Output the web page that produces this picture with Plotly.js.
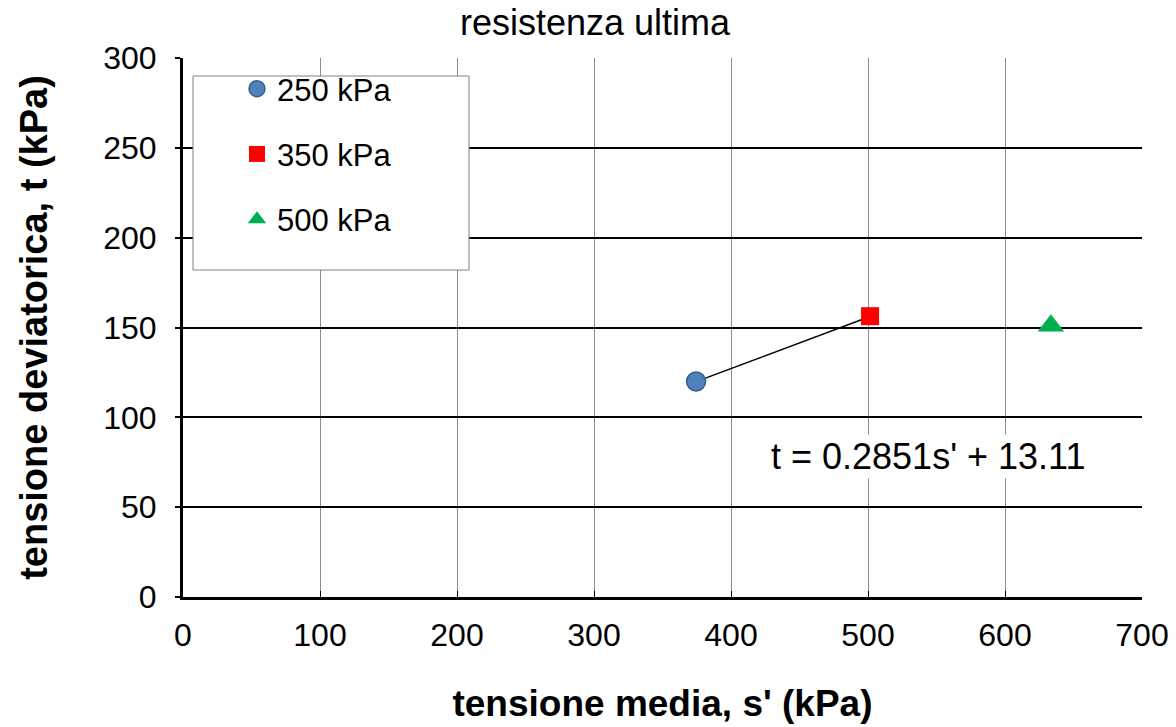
<!DOCTYPE html>
<html>
<head>
<meta charset="utf-8">
<script src="https://cdn.plot.ly/plotly-3.0.1.min.js"></script>
<style>html,body{margin:0;padding:0;background:#fff;}#chart{width:1176px;height:727px;}</style>
</head>
<body>
<div id="chart"></div>
<script>
// Data
const seriesNames = ["250 kPa", "350 kPa", "500 kPa"];
const sValues = [374.5, 501.5, 633.5];   // tensione media s' (kPa)
const tValues = [120.0, 156.3, 151.0];   // tensione deviatorica t (kPa)
const trendX = [374.5, 501.5];
const trendY = [119.9, 156.1];
const trendLabel = "t = 0.2851s' + 13.11";
const xTicks = [0, 100, 200, 300, 400, 500, 600, 700];
const yTicks = [0, 50, 100, 150, 200, 250, 300];

const markerStyles = [
  {symbol: "circle", size: 19, color: "#4F81BD", line: {color: "#385D8A", width: 1.5}},
  {symbol: "square", size: 18, color: "#FF0000", line: {color: "#FF0000", width: 0}},
  {symbol: "triangle-up", size: 23, color: "#00B050", line: {color: "#00B050", width: 0}}
];

const traces = [{
  x: trendX, y: trendY, mode: "lines", type: "scatter",
  line: {color: "#000000", width: 1.5}, showlegend: false, hoverinfo: "skip"
}];
seriesNames.forEach((n, i) => {
  traces.push({
    x: [sValues[i]], y: [tValues[i]], mode: "markers", type: "scatter",
    name: n, legendgroup: "g" + i, marker: markerStyles[i]
  });
});

const W = 1176, H = 727, L = 183, R = 34, T = 58, B = 130;
const pw = W - L - R, ph = H - T - B;
const px = v => (v - L) / pw;
const py = v => (H - B - v) / ph;

const layout = {
  width: W, height: H,
  margin: {l: L, r: R, t: T, b: B, pad: 0},
  paper_bgcolor: "#ffffff", plot_bgcolor: "#ffffff",
  font: {family: "Liberation Sans, Arial, sans-serif", color: "#000000", size: 31},
  title: {text: "resistenza ultima", font: {size: 36}, x: 0.506, xanchor: "center", y: 0.969, yanchor: "middle", yref: "container"},
  xaxis: {
    range: [0, 700], tickvals: xTicks, ticktext: xTicks.map(String),
    showgrid: true, gridcolor: "#8c8c8c", gridwidth: 1,
    showline: true, linecolor: "#000000", linewidth: 3,
    ticks: "inside", ticklen: 6, tickcolor: "#000000", tickwidth: 1,
    zeroline: false, tickfont: {size: 32}, ticklabelstandoff: 8,
    title: {text: "<b>tensione media, s' (kPa)</b>", font: {size: 37}, standoff: 38}
  },
  yaxis: {
    range: [0, 300], tickvals: yTicks, ticktext: yTicks.map(String),
    showgrid: true, gridcolor: "#000000", gridwidth: 2,
    showline: true, linecolor: "#000000", linewidth: 3,
    ticks: "outside", ticklen: 5, tickcolor: "#000000", tickwidth: 2,
    zeroline: false, tickfont: {size: 32}, ticklabelstandoff: 12,
    title: {text: "<b>tensione deviatorica, t (kPa)</b>", font: {size: 38}, standoff: 44}
  },
  showlegend: true,
  legend: {
    x: px(237), y: py(62), xanchor: "left", yanchor: "top",
    bgcolor: "rgba(0,0,0,0)", borderwidth: 0,
    font: {size: 31}, tracegroupgap: 22, traceorder: "grouped"
  },
  shapes: [{
    type: "rect", xref: "paper", yref: "paper",
    x0: px(193), x1: px(469), y0: py(270), y1: py(76),
    line: {color: "#808080", width: 1}, fillcolor: "#ffffff", layer: "above"
  }],
  annotations: [{
    x: 544, y: 78, xref: "x", yref: "y", text: trendLabel, showarrow: false,
    font: {size: 36}, bgcolor: "#ffffff", xanchor: "center", yanchor: "middle"
  }]
};

Plotly.newPlot("chart", traces, layout, {displayModeBar: false, staticPlot: true});
</script>
</body>
</html>
